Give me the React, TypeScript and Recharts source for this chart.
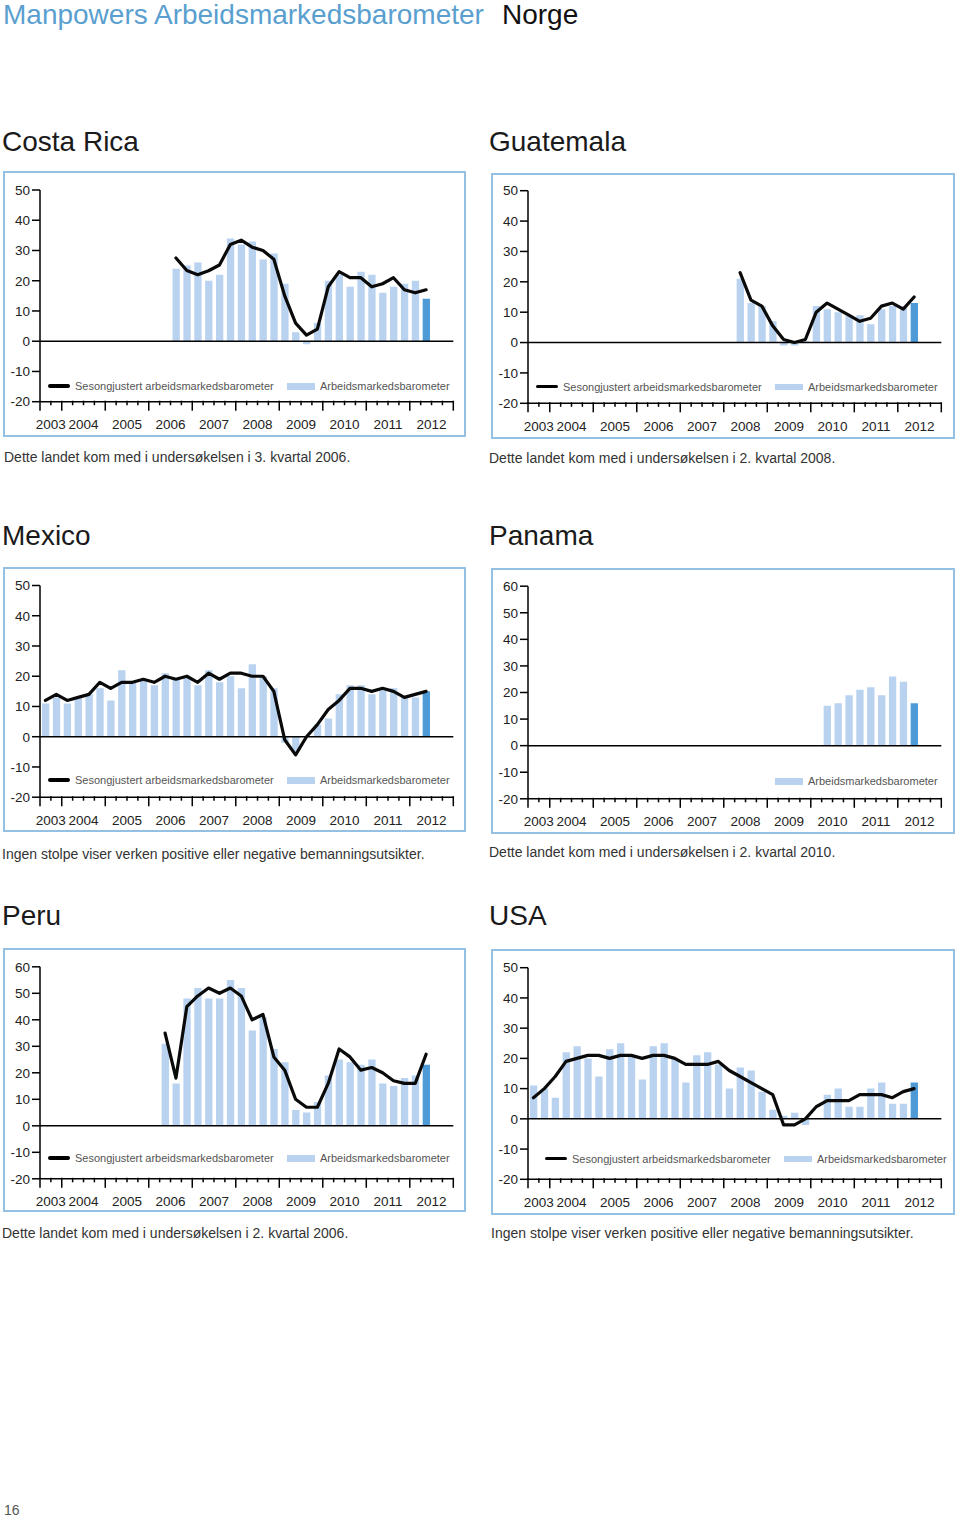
import React from 'react';
import { ComposedChart, Bar, Line, XAxis, YAxis, ReferenceLine, Cell, Legend } from 'recharts';

// ---------- categories ----------
const quarters = [
  '2003 K3', '2003 K4',
  '2004 K1', '2004 K2', '2004 K3', '2004 K4',
  '2005 K1', '2005 K2', '2005 K3', '2005 K4',
  '2006 K1', '2006 K2', '2006 K3', '2006 K4',
  '2007 K1', '2007 K2', '2007 K3', '2007 K4',
  '2008 K1', '2008 K2', '2008 K3', '2008 K4',
  '2009 K1', '2009 K2', '2009 K3', '2009 K4',
  '2010 K1', '2010 K2', '2010 K3', '2010 K4',
  '2011 K1', '2011 K2', '2011 K3', '2011 K4',
  '2012 K1', '2012 K2',
];
const yearLabels = ['2003', '2004', '2005', '2006', '2007', '2008', '2009', '2010', '2011', '2012'];
// positions on the quarter-slot axis (2003 has two slots, 2012 has four)
const yearCenters = [1, 4, 8, 12, 16, 20, 24, 28, 32, 36];
const yearBoundaries = [0, 2, 6, 10, 14, 18, 22, 26, 30, 34, 38];
const slotBoundaries = [0, 1, 2, 3, 4, 5, 6, 7, 8, 9, 10, 11, 12, 13, 14, 15, 16, 17, 18, 19, 20, 21, 22, 23, 24, 25, 26, 27, 28, 29, 30, 31, 32, 33, 34, 35, 36, 37, 38];
const ticks50 = [-20, -10, 0, 10, 20, 30, 40, 50];
const ticks60 = [-20, -10, 0, 10, 20, 30, 40, 50, 60];

const lineLabel = 'Sesongjustert arbeidsmarkedsbarometer';
const barLabel = 'Arbeidsmarkedsbarometer';

// ---------- series ----------
const costaRicaStart = 12; // 2006 K3
const costaRicaBars = [24, 25, 26, 20, 22, 34, 32, 33, 27, 29, 19, 3, -1, 6, 20, 22, 18, 23, 22, 16, 18, 19, 20, 14];
const costaRicaLine = [27.5, 23.4, 22, 23.3, 25.2, 32, 33.4, 31.1, 30, 27.1, 15, 6, 2, 4, 18, 23, 21, 21, 18, 19, 21, 17, 16, 17];

const guatemalaStart = 19; // 2008 K2
const guatemalaBars = [21, 13, 12, 7, -1, -1, 0.5, 12, 11, 10, 9, 9, 6, 11, 12, 12, 13];
const guatemalaLine = [23, 14, 12, 5.5, 1, 0, 1, 10, 13, 11, 9, 7, 8, 12, 13, 11, 15];

const mexicoStart = 0;
const mexicoBars = [11, 13, 11, 13, 14, 16, 12, 22, 18, 19, 17, 21, 19, 20, 17, 22, 18, 20, 16, 24, 20, 16, -2, -5, 0, 4, 6, 14, 17, 17, 14, 16, 16, 13, 13, 15];
const mexicoLine = [12, 14, 12, 13, 14, 18, 16, 18, 18, 19, 18, 20, 19, 20, 18, 21, 19, 21, 21, 20, 20, 15, -1, -6, 0, 4, 9, 12, 16, 16, 15, 16, 15, 13, 14, 15];

const panamaStart = 27; // 2010 K2
const panamaBars = [15, 16, 19, 21, 22, 19, 26, 24, 16];

const peruStart = 11; // 2006 K2
const peruBars = [31, 16, 48, 52, 48, 48, 55, 52, 36, 41, 29, 24, 6, 5, 9, 19, 25, 24, 23, 25, 16, 15, 18, 19, 23];
const peruLine = [35, 18, 45, 49, 52, 50, 52, 49, 40, 42, 26, 21, 10, 7, 7, 16, 29, 26, 21, 22, 20, 17, 16, 16, 27];

const usaStart = 0;
const usaBars = [11, 10, 7, 22, 24, 20, 14, 23, 25, 21, 13, 24, 25, 20, 12, 21, 22, 18, 10, 17, 16, 9, 3, 1, 2, -2, 0, 8, 10, 4, 4, 10, 12, 5, 5, 12];
const usaLine = [7, 10, 14, 19, 20, 21, 21, 20, 21, 21, 20, 21, 21, 20, 18, 18, 18, 19, 16, 14, 12, 10, 8, -2, -2, 0, 4, 6, 6, 6, 8, 8, 8, 7, 9, 10];

const noteJoined3K2006 = 'Dette landet kom med i undersøkelsen i 3. kvartal 2006.';
const noteJoined2K2008 = 'Dette landet kom med i undersøkelsen i 2. kvartal 2008.';
const noteJoined2K2010 = 'Dette landet kom med i undersøkelsen i 2. kvartal 2010.';
const noteJoined2K2006 = 'Dette landet kom med i undersøkelsen i 2. kvartal 2006.';
const noteNoBars = 'Ingen stolpe viser verken positive eller negative bemanningsutsikter.';

// ---------- styles ----------
const FONT = '"Liberation Sans", Arial, Helvetica, sans-serif';
const LIGHT = '#b8d2ef';
const DARK = '#4d9ad6';
const FRAME = '#93c0e3';
const TITLE_BLUE = '#5a9fcf';

type PanelCfg = {
  title: string;
  start: number;
  bars: number[];
  line: number[] | null;
  ticks: number[];
  col: number;
  frameTop: number;
  frameBottom: number;
  plotTop: number;
  plotBottom: number;
  legendY: number;
  legendShift: number;
  titleBaseline: number;
  titleX: number;
  note: string;
  noteBaseline: number;
  noteX: number;
};

const panels: PanelCfg[] = [
  { title: 'Costa Rica', start: costaRicaStart, bars: costaRicaBars, line: costaRicaLine, ticks: ticks50, col: 0, frameTop: 171, frameBottom: 437, plotTop: 190, plotBottom: 401.7, legendY: 386, legendShift: 0, titleBaseline: 152, titleX: 2, note: noteJoined3K2006, noteBaseline: 462, noteX: 4 },
  { title: 'Guatemala', start: guatemalaStart, bars: guatemalaBars, line: guatemalaLine, ticks: ticks50, col: 1, frameTop: 173, frameBottom: 439, plotTop: 190.7, plotBottom: 403.3, legendY: 386.5, legendShift: 0, titleBaseline: 152, titleX: 489, note: noteJoined2K2008, noteBaseline: 463, noteX: 489 },
  { title: 'Mexico', start: mexicoStart, bars: mexicoBars, line: mexicoLine, ticks: ticks50, col: 0, frameTop: 566.5, frameBottom: 832, plotTop: 585, plotBottom: 796.7, legendY: 780, legendShift: 0, titleBaseline: 546, titleX: 2, note: noteNoBars, noteBaseline: 859, noteX: 2 },
  { title: 'Panama', start: panamaStart, bars: panamaBars, line: null, ticks: ticks60, col: 1, frameTop: 567.5, frameBottom: 833.5, plotTop: 585.7, plotBottom: 798.3, legendY: 781, legendShift: 0, titleBaseline: 546, titleX: 489, note: noteJoined2K2010, noteBaseline: 857, noteX: 489 },
  { title: 'Peru', start: peruStart, bars: peruBars, line: peruLine, ticks: ticks60, col: 0, frameTop: 947.5, frameBottom: 1212, plotTop: 966.3, plotBottom: 1178.3, legendY: 1158, legendShift: 0, titleBaseline: 926, titleX: 2, note: noteJoined2K2006, noteBaseline: 1238, noteX: 2 },
  { title: 'USA', start: usaStart, bars: usaBars, line: usaLine, ticks: ticks50, col: 1, frameTop: 949, frameBottom: 1215, plotTop: 967.7, plotBottom: 1179.3, legendY: 1158.5, legendShift: 9, titleBaseline: 926, titleX: 489, note: noteNoBars, noteBaseline: 1238, noteX: 491 },
];

const W = 470;
const H = 270;
const PLOT_LEFT = 40;
const PLOT_RIGHT = 453.3;
const AXIS_H = 1;

function buildRows(start: number, bars: number[], line: number[] | null) {
  return quarters.map((q, i) => {
    const k = i - start;
    const inRange = k >= 0 && k < bars.length;
    return {
      q,
      x: i + 0.5,
      bar: inRange ? bars[k] : null,
      line: line && k >= 0 && k < line.length ? line[k] : null,
    };
  });
}

const TickMark = (props: any) => {
  const { x, y, payload } = props;
  const major = yearBoundaries.includes(payload.value);
  const y0 = y - AXIS_H;
  return <line x1={x} x2={x} y1={y0} y2={y0 + (major ? 10 : 4.5)} stroke="#000" strokeWidth={1.5} />;
};

function PageText({ x, baseline, size, color, children }: any) {
  return (
    <div
      style={{
        position: 'absolute',
        left: x,
        top: baseline - 0.8465 * size,
        fontSize: size,
        lineHeight: `${size}px`,
        color,
        fontFamily: FONT,
        whiteSpace: 'nowrap',
      }}
    >
      {children}
    </div>
  );
}

function Panel({ cfg }: { cfg: PanelCfg }) {
  const rows = buildRows(cfg.start, cfg.bars, cfg.line);
  const lastIndex = cfg.start + cfg.bars.length - 1;
  const x0 = cfg.col === 0 ? 0 : 488;
  const top = cfg.frameTop - 2;
  const margin = {
    top: cfg.plotTop - top,
    right: W - PLOT_RIGHT,
    bottom: top + H - cfg.plotBottom - 2 * AXIS_H,
    left: 0,
  };
  const frameLeft = cfg.col === 0 ? 3 : 490.5;
  const frameRight = cfg.col === 0 ? 465.5 : 955;
  const legendTop = cfg.legendY - top - 8;
  const s = cfg.legendShift;

  const renderLegend = (props: any) => {
    const payload: any[] = props.payload || [];
    const hasLine = payload.some((p) => p.dataKey === 'line');
    const hasBar = payload.some((p) => p.dataKey === 'bar');
    const textStyle: React.CSSProperties = {
      position: 'absolute',
      top: 0,
      fontSize: 11,
      lineHeight: '16px',
      color: '#555',
      fontFamily: FONT,
      whiteSpace: 'nowrap',
    };
    return (
      <div style={{ position: 'relative', width: W, height: 16 }}>
        {hasLine && (
          <>
            <div style={{ position: 'absolute', left: 48 + s, top: 6.3, width: 22, height: 3.6, background: '#000', borderRadius: 2 }} />
            <div style={{ ...textStyle, left: 75 + s }}>{lineLabel}</div>
          </>
        )}
        {hasBar && (
          <>
            <div style={{ position: 'absolute', left: 287 + s, top: 5, width: 28, height: 6.5, background: LIGHT }} />
            <div style={{ ...textStyle, left: 320 + s }}>{barLabel}</div>
          </>
        )}
      </div>
    );
  };

  return (
    <>
      <div
        style={{
          position: 'absolute',
          left: frameLeft,
          top: cfg.frameTop,
          width: frameRight - frameLeft,
          height: cfg.frameBottom - cfg.frameTop,
          border: `2px solid ${FRAME}`,
          boxSizing: 'border-box',
        }}
      />
      <PageText x={cfg.titleX} baseline={cfg.titleBaseline} size={28} color="#1a1a1a">{cfg.title}</PageText>
      <PageText x={cfg.noteX} baseline={cfg.noteBaseline} size={14} color="#333">{cfg.note}</PageText>
      <div style={{ position: 'absolute', left: x0, top, width: W, height: H }}>
        <ComposedChart width={W} height={H} data={rows} margin={margin} style={{ fontFamily: FONT }}>
          <XAxis
            xAxisId="q"
            dataKey="x"
            type="number"
            domain={[0, 38]}
            allowDataOverflow
            ticks={slotBoundaries}
            interval={0}
            height={AXIS_H}
            tickSize={0}
            tickMargin={0}
            tickLine={false}
            axisLine={{ stroke: '#000', strokeWidth: 1.5 }}
            tick={TickMark}
          />
          <XAxis
            xAxisId="yr"
            dataKey="x"
            type="number"
            domain={[0, 38]}
            allowDataOverflow
            ticks={yearCenters}
            interval={0}
            height={AXIS_H}
            tickSize={15}
            tickMargin={2}
            axisLine={false}
            tickLine={false}
            tickFormatter={(v: number) => yearLabels[yearCenters.indexOf(v)]}
            tick={{ fontSize: 13.5, fill: '#222' }}
          />
          <YAxis
            type="number"
            domain={[cfg.ticks[0], cfg.ticks[cfg.ticks.length - 1]]}
            allowDataOverflow
            ticks={cfg.ticks}
            interval={0}
            width={PLOT_LEFT}
            tickSize={8}
            tickMargin={2}
            axisLine={{ stroke: '#000', strokeWidth: 1.5 }}
            tickLine={{ stroke: '#000', strokeWidth: 1.5 }}
            tick={{ fontSize: 13.5, fill: '#222' }}
          />
          <Bar xAxisId="q" dataKey="bar" name={barLabel} barSize={7.3} isAnimationActive={false}>
            {rows.map((r, i) => (
              <Cell key={r.q} fill={i === lastIndex ? DARK : LIGHT} />
            ))}
          </Bar>
          <ReferenceLine xAxisId="q" y={0} stroke="#000" strokeWidth={1.5} />
          {cfg.line && (
            <Line
              xAxisId="q"
              dataKey="line"
              name={lineLabel}
              type="linear"
              stroke="#0a0a0a"
              strokeWidth={3.2}
              strokeLinejoin="round"
              strokeLinecap="round"
              dot={false}
              activeDot={false}
              connectNulls={false}
              isAnimationActive={false}
            />
          )}
          <Legend
            layout="horizontal"
            verticalAlign="middle"
            align="center"
            content={renderLegend}
            wrapperStyle={{ left: 0, top: legendTop, width: W, height: 16 }}
          />
        </ComposedChart>
      </div>
    </>
  );
}

export default function App() {
  return (
    <div style={{ position: 'absolute', left: 0, top: 0, width: 960, height: 1517, background: '#fff', overflow: 'hidden', fontFamily: FONT }}>
      <PageText x={3} baseline={25} size={28} color={TITLE_BLUE}>Manpowers Arbeidsmarkedsbarometer</PageText>
      <PageText x={502} baseline={25} size={28} color="#111">Norge</PageText>
      {panels.map((p) => (
        <Panel key={p.title} cfg={p} />
      ))}
      <PageText x={4} baseline={1515} size={14} color="#555">16</PageText>
    </div>
  );
}
